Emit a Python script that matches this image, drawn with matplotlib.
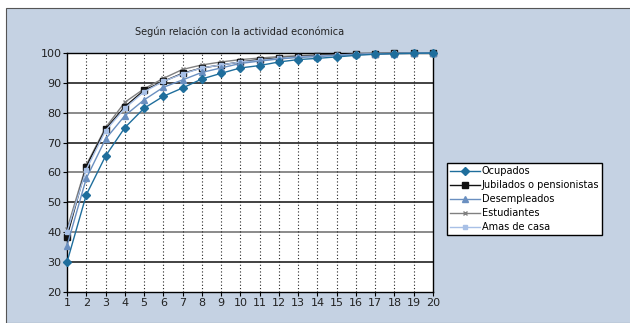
import numpy as np
import matplotlib.pyplot as plt
from matplotlib.patches import Rectangle

x = list(range(1, 21))

ocupados = [30, 52.5, 65.5, 75, 81.5, 85.5, 88.3, 91.3, 93.2, 95,
            95.8, 97, 97.8, 98.2, 98.7, 99.2, 99.6, 99.8, 99.9, 100]
jubilados = [38.5, 62, 74.5, 82, 87.5, 90.5, 93.2, 95, 96, 97,
             97.8, 98.3, 98.8, 99.1, 99.4, 99.6, 99.8, 99.9, 100, 100]
desempleados = [35.5, 58, 71.2, 79, 84.3, 88.5, 91, 93.5, 95, 96.5,
                97.3, 98, 98.5, 98.8, 99.2, 99.5, 99.7, 99.8, 99.9, 100]
estudiantes = [41, 62.5, 75, 83.5, 88, 91.5, 94.5, 96, 97, 97.8,
               98.3, 98.8, 99.1, 99.4, 99.6, 99.8, 99.9, 100, 100, 100]
amas_de_casa = [40, 61, 74, 81.5, 87, 90.5, 93, 95, 96, 97,
                97.5, 98.2, 98.7, 99, 99.3, 99.6, 99.8, 99.9, 100, 100]

labels = ["Ocupados", "Jubilados o pensionistas", "Desempleados",
          "Estudiantes", "Amas de casa"]
title = "Según relación con la actividad económica"

bg = "#c5d2e3"

fig = plt.figure(figsize=(6.3, 3.23), dpi=100)
fig.patches.append(Rectangle((6/630, 0), 1, 1 - 8/323, transform=fig.transFigure,
                             facecolor=bg, edgecolor="#555555", linewidth=0.8, zorder=-5))

ax = fig.add_axes([67/630, 1 - 292/323, 366/630, 239/323])
ax.set_facecolor("white")

ax.plot(x, ocupados, color="#1f6e9c", marker="D", markersize=4, lw=1, label=labels[0], zorder=6, clip_on=False)
ax.plot(x, jubilados, color="#111111", marker="s", markersize=4.5, lw=1, label=labels[1], zorder=3, clip_on=False)
ax.plot(x, desempleados, color="#6a8fc0", marker="^", markersize=5, lw=1, label=labels[2], zorder=5, clip_on=False)
ax.plot(x, estudiantes, color="#808080", marker="x", markersize=3.5, mew=1, lw=1, label=labels[3], zorder=2, clip_on=False)
ax.plot(x, amas_de_casa, color="#a8c0e6", marker="s", markersize=3, lw=1, label=labels[4], zorder=4, clip_on=False)

ax.set_xlim(1, 20)
ax.set_ylim(20, 100)
ax.set_xticks(x)
ax.set_yticks(range(20, 101, 10))
for yv in range(30, 100, 10):
    ax.axhline(yv, color="#222222" if yv % 20 else "#777777", lw=1.2, zorder=1)
for xv in x[1:-1]:
    ax.axvline(xv, color="#222222", lw=0.8, ls=(0, (1, 2)), zorder=1)

ax.tick_params(labelsize=8, length=3, pad=1, direction="out", labelcolor="#222222")
for s in ax.spines.values():
    s.set_linewidth(1)

fig.text(240/630, 1 - 32/323, title, fontsize=7, ha="center", va="center", color="#222222")

leg = fig.legend(loc="upper left", bbox_to_anchor=(447/630, 1 - 163/323),
                 borderaxespad=0, fontsize=7, frameon=True, fancybox=False,
                 edgecolor="black", framealpha=1, handlelength=3,
                 labelspacing=0.4, borderpad=0.35, handletextpad=0.2)
leg.get_frame().set_linewidth(1)

fig.savefig("out.png", dpi=100)
